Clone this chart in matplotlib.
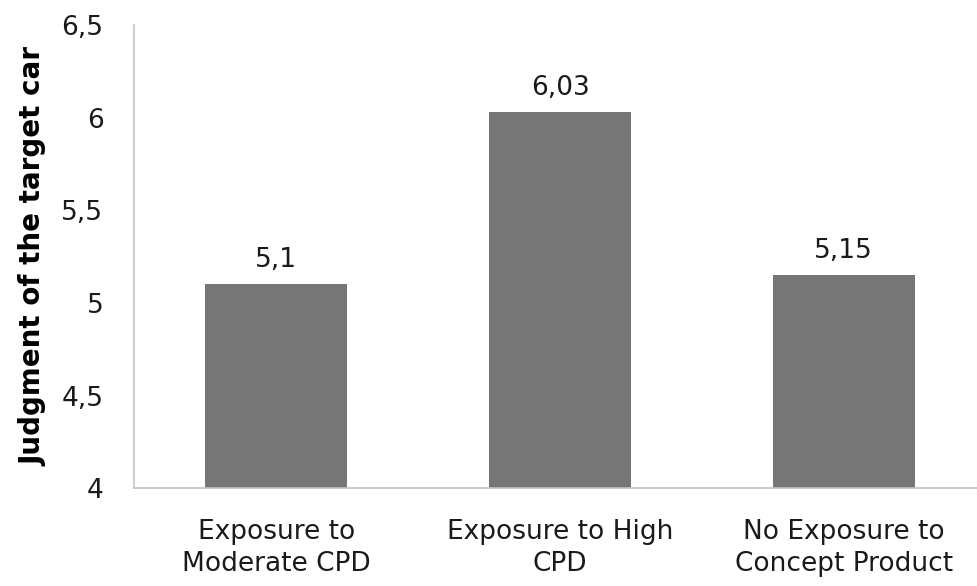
import matplotlib
matplotlib.use('Agg')
import matplotlib.pyplot as plt

# Mean judgment of the target car per exposure condition
conditions = ['Exposure to\nModerate CPD', 'Exposure to High\nCPD', 'No Exposure to\nConcept Product']
judgment = [5.1, 6.03, 5.15]
value_labels = ['5,1', '6,03', '5,15']
y_ticks = [4, 4.5, 5, 5.5, 6, 6.5]
y_tick_labels = ['4', '4,5', '5', '5,5', '6', '6,5']

plt.rcParams['font.family'] = ['DejaVu Sans']

fig = plt.figure(figsize=(9.78, 5.86), dpi=100)
ax = fig.add_axes([0.137, 0.167, 0.863, 0.790])

x = range(len(conditions))
bars = ax.bar(x, judgment, width=0.5, color='#767676')
ax.bar_label(bars, labels=value_labels, padding=8, fontsize=19, color='#1a1a1a')

ax.set_ylim(4, 6.5)
ax.set_xlim(-0.502, 2.473)
ax.set_yticks(y_ticks)
ax.set_yticklabels(y_tick_labels)
ax.set_xticks(list(x))
ax.set_xticklabels(conditions, linespacing=1.32)

ax.tick_params(axis='y', length=0, pad=22, labelsize=19, labelcolor='#1a1a1a')
ax.tick_params(axis='x', length=0, pad=22, labelsize=19, labelcolor='#1a1a1a')

for side in ['top', 'right']:
    ax.spines[side].set_visible(False)
for side in ['left', 'bottom']:
    ax.spines[side].set_color('#c4c4c4')
    ax.spines[side].set_linewidth(1.2)

ax.set_ylabel('Judgment of the target car', fontsize=20, fontweight='bold', color='black', labelpad=10)

fig.savefig('out.png', dpi=100)
